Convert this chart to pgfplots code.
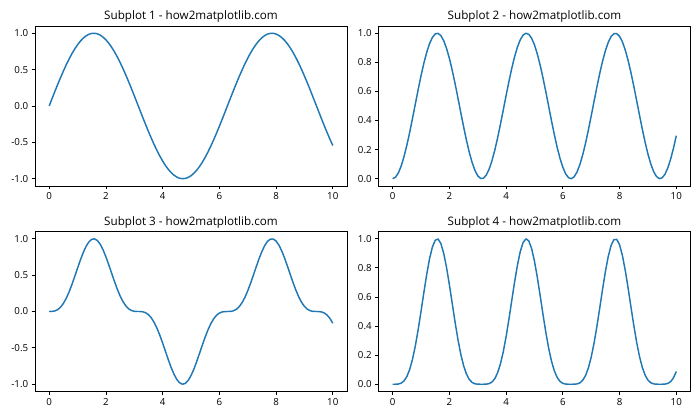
\documentclass[border=0pt]{standalone}
\usepackage{pgfplots}
\pgfplotsset{compat=1.18}
\usepackage{pgfplotstable}
\usepackage{fontspec}
\setmainfont{Open Sans}
\definecolor{mplblue}{HTML}{1F77B4}

\pgfplotstableread{
x s1 s2 s3 s4
0.0 0.0000 0.0000 0.0000 0.0000
0.1 0.0998 0.0100 0.0010 0.0001
0.2 0.1987 0.0395 0.0078 0.0016
0.3 0.2955 0.0873 0.0258 0.0076
0.4 0.3894 0.1516 0.0590 0.0230
0.5 0.4794 0.2298 0.1102 0.0528
0.6 0.5646 0.3188 0.1800 0.1016
0.7 0.6442 0.4150 0.2673 0.1722
0.8 0.7174 0.5147 0.3692 0.2649
0.9 0.7833 0.6136 0.4806 0.3765
1.0 0.8415 0.7081 0.5959 0.5014
1.1 0.8912 0.7942 0.7078 0.6308
1.2 0.9320 0.8686 0.8096 0.7545
1.3 0.9636 0.9285 0.8947 0.8622
1.4 0.9854 0.9710 0.9568 0.9429
1.5 0.9975 0.9950 0.9925 0.9900
1.6 0.9996 0.9992 0.9988 0.9984
1.7 0.9917 0.9835 0.9753 0.9672
1.8 0.9738 0.9483 0.9234 0.8993
1.9 0.9463 0.8955 0.8474 0.8019
2.0 0.9093 0.8268 0.7518 0.6836
2.1 0.8632 0.7451 0.6432 0.5552
2.2 0.8085 0.6537 0.5285 0.4273
2.3 0.7457 0.5561 0.4147 0.3092
2.4 0.6755 0.4563 0.3082 0.2082
2.5 0.5985 0.3582 0.2144 0.1283
2.6 0.5155 0.2657 0.1370 0.0706
2.7 0.4274 0.1827 0.0781 0.0334
2.8 0.3350 0.1122 0.0376 0.0126
2.9 0.2392 0.0572 0.0137 0.0033
3.0 0.1411 0.0199 0.0028 0.0004
3.1 0.0416 0.0017 0.0001 0.0000
3.2 -0.0584 0.0034 -0.0002 0.0000
3.3 -0.1577 0.0249 -0.0039 0.0006
3.4 -0.2555 0.0653 -0.0167 0.0043
3.5 -0.3508 0.1231 -0.0432 0.0151
3.6 -0.4425 0.1958 -0.0866 0.0383
3.7 -0.5298 0.2807 -0.1487 0.0788
3.8 -0.6119 0.3744 -0.2291 0.1402
3.9 -0.6878 0.4731 -0.3254 0.2238
4.0 -0.7568 0.5728 -0.4335 0.3280
4.1 -0.8183 0.6696 -0.5480 0.4484
4.2 -0.8716 0.7597 -0.6621 0.5771
4.3 -0.9162 0.8394 -0.7691 0.7046
4.4 -0.9516 0.9055 -0.8617 0.8200
4.5 -0.9775 0.9555 -0.9340 0.9130
4.6 -0.9937 0.9874 -0.9812 0.9750
4.7 -0.9999 0.9998 -0.9997 0.9996
4.8 -0.9962 0.9924 -0.9886 0.9849
4.9 -0.9825 0.9653 -0.9484 0.9318
5.0 -0.9589 0.9195 -0.8817 0.8455
5.1 -0.9258 0.8571 -0.7935 0.7346
5.2 -0.8835 0.7806 -0.6896 0.6093
5.3 -0.8323 0.6927 -0.5766 0.4799
5.4 -0.7728 0.5972 -0.4615 0.3567
5.5 -0.7055 0.4977 -0.3512 0.2477
5.6 -0.6313 0.3985 -0.2516 0.1588
5.7 -0.5507 0.3033 -0.1670 0.0920
5.8 -0.4646 0.2159 -0.1003 0.0466
5.9 -0.3739 0.1398 -0.0523 0.0195
6.0 -0.2794 0.0781 -0.0218 0.0061
6.1 -0.1822 0.0332 -0.0060 0.0011
6.2 -0.0831 0.0069 -0.0006 0.0000
6.3 0.0168 0.0003 0.0000 0.0000
6.4 0.1165 0.0136 0.0016 0.0002
6.5 0.2151 0.0463 0.0100 0.0021
6.6 0.3115 0.0970 0.0302 0.0094
6.7 0.4048 0.1639 0.0663 0.0269
6.8 0.4941 0.2441 0.1206 0.0596
6.9 0.5784 0.3346 0.1935 0.1119
7.0 0.6570 0.4316 0.2836 0.1863
7.1 0.7290 0.5314 0.3874 0.2824
7.2 0.7937 0.6300 0.5000 0.3969
7.3 0.8504 0.7232 0.6150 0.5230
7.4 0.8987 0.8077 0.7258 0.6523
7.5 0.9380 0.8798 0.8253 0.7741
7.6 0.9679 0.9368 0.9068 0.8777
7.7 0.9882 0.9765 0.9650 0.9536
7.8 0.9985 0.9970 0.9955 0.9940
7.9 0.9989 0.9978 0.9967 0.9956
8.0 0.9894 0.9789 0.9685 0.9583
8.1 0.9699 0.9407 0.9124 0.8849
8.2 0.9407 0.8849 0.8324 0.7831
8.3 0.9022 0.8140 0.7344 0.6625
8.4 0.8546 0.7303 0.6242 0.5334
8.5 0.7985 0.6376 0.5091 0.4065
8.6 0.7344 0.5393 0.3961 0.2909
8.7 0.6630 0.4396 0.2914 0.1932
8.8 0.5849 0.3421 0.2001 0.1170
8.9 0.5010 0.2510 0.1258 0.0630
9.0 0.4121 0.1698 0.0700 0.0288
9.1 0.3191 0.1018 0.0325 0.0104
9.2 0.2229 0.0497 0.0111 0.0025
9.3 0.1245 0.0155 0.0019 0.0002
9.4 0.0248 0.0006 0.0000 0.0000
9.5 -0.0752 0.0057 -0.0004 0.0000
9.6 -0.1743 0.0304 -0.0053 0.0009
9.7 -0.2718 0.0739 -0.0201 0.0055
9.8 -0.3665 0.1343 -0.0492 0.0180
9.9 -0.4575 0.2093 -0.0958 0.0438
10.0 -0.5440 0.2959 -0.1610 0.0876
}\datatable

\pgfplotsset{
  mplax/.style={
    scale only axis,
    width=320.9bp, height=164.6bp,
    anchor=north west,
    xmin=-0.5, xmax=10.5,
    xtick={0,2,4,6,8,10},
    axis line style={line width=0.8bp},
    tick style={line width=0.8bp, black},
    tick align=outside,
    major tick length=3.5bp,
    xtick pos=bottom, ytick pos=left,
    tick label style={font=\fontsize{10bp}{12bp}\selectfont, text=black},
    /pgf/number format/assume math mode=true,
    every axis title/.style={at={(0.5,1)}, anchor=base, yshift=6.2bp,
      font=\fontsize{12bp}{14bp}\selectfont},
    cycle list={{mplblue, mark=none}},
    every axis plot/.append style={line width=1.5bp, line join=round},
    yticklabel={\pgfmathprintnumber[fixed,fixed zerofill,precision=1]{\tick}},
  },
}

\begin{document}
\begin{tikzpicture}
\path (0,0) rectangle (720bp,-432bp);
\begin{axis}[mplax, at={(36bp,-26.7bp)},
  ymin=-1.1, ymax=1.1, ytick={-1,-0.5,0,0.5,1},
  title={Subplot 1 - how2matplotlib.com}]
\addplot table[x=x,y=s1]{\datatable};
\end{axis}
\begin{axis}[mplax, at={(389.3bp,-26.7bp)},
  ymin=-0.05, ymax=1.05, ytick={0,0.2,0.4,0.6,0.8,1},
  title={Subplot 2 - how2matplotlib.com}]
\addplot table[x=x,y=s2]{\datatable};
\end{axis}
\begin{axis}[mplax, at={(36bp,-238.1bp)},
  ymin=-1.1, ymax=1.1, ytick={-1,-0.5,0,0.5,1},
  title={Subplot 3 - how2matplotlib.com}]
\addplot table[x=x,y=s3]{\datatable};
\end{axis}
\begin{axis}[mplax, at={(389.3bp,-238.1bp)},
  ymin=-0.05, ymax=1.05, ytick={0,0.2,0.4,0.6,0.8,1},
  title={Subplot 4 - how2matplotlib.com}]
\addplot table[x=x,y=s4]{\datatable};
\end{axis}
\end{tikzpicture}
\end{document}
